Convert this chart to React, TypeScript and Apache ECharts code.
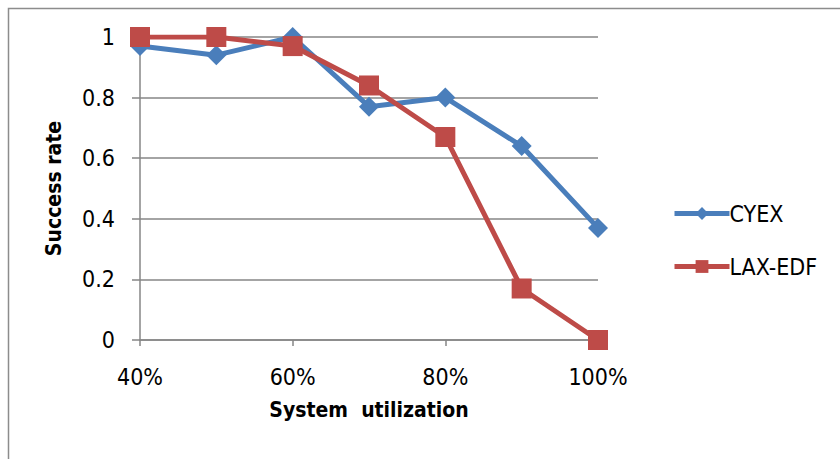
import React, { useEffect, useRef } from "react";
import * as echarts from "echarts";

const categories = ["40%", "50%", "60%", "70%", "80%", "90%", "100%"];
const cyex = [0.97, 0.94, 1.0, 0.77, 0.8, 0.64, 0.37];
const laxEdf = [1.0, 1.0, 0.97, 0.84, 0.67, 0.17, 0.0];

const FONT = "'Liberation Sans Narrow', 'DejaVu Sans Condensed', 'Liberation Sans', sans-serif";

export default function App() {
  const ref = useRef<HTMLDivElement>(null);
  useEffect(() => {
    if (!ref.current) return;
    const chart = echarts.init(ref.current, undefined, { renderer: "svg" });
    chart.setOption({
      animation: false,
      backgroundColor: "#ffffff",
      textStyle: { fontFamily: FONT },
      graphic: [
        {
          type: "rect",
          shape: { x: 8.5, y: 8.5, width: 900, height: 500 },
          style: { fill: "none", stroke: "#8c8c8c", lineWidth: 1.5 },
          silent: true,
        },
      ],
      grid: { left: 140, top: 37, right: 242, bottom: 119 },
      legend: {
        orient: "vertical",
        left: 667,
        top: 197,
        itemWidth: 55,
        itemHeight: 16,
        itemGap: 30,
        lineStyle: { width: 5 },
        textStyle: { fontSize: 23, color: "#000", fontFamily: FONT, padding: [0, 0, 0, -5] },
        data: ["CYEX", "LAX-EDF"],
      },
      xAxis: {
        type: "category",
        data: categories,
        boundaryGap: false,
        name: "System  utilization",
        nameLocation: "middle",
        nameGap: 59,
        nameTextStyle: { fontSize: 21, fontWeight: "bold", color: "#000", fontFamily: FONT },
        axisLine: { lineStyle: { color: "#868686", width: 1.5 } },
        axisTick: { show: true, interval: 1, length: 6, lineStyle: { color: "#868686", width: 1.5 } },
        axisLabel: { interval: 1, fontSize: 23, color: "#000", margin: 25, fontFamily: FONT },
        splitLine: { show: false },
      },
      yAxis: {
        type: "value",
        min: 0,
        max: 1,
        interval: 0.2,
        name: "Success rate",
        nameLocation: "middle",
        nameRotate: 90,
        nameGap: 76,
        nameTextStyle: { fontSize: 21, fontWeight: "bold", color: "#000", fontFamily: FONT },
        axisLine: { show: true, lineStyle: { color: "#868686", width: 1.5 } },
        axisTick: { show: true, length: 8, lineStyle: { color: "#868686", width: 1.5 } },
        axisLabel: { fontSize: 23, color: "#000", margin: 25, fontFamily: FONT },
        splitLine: { show: true, lineStyle: { color: "#868686", width: 1.5 } },
      },
      series: [
        {
          name: "CYEX",
          type: "line",
          data: cyex,
          symbol: "diamond",
          symbolSize: 20,
          lineStyle: { color: "#4a7ebb", width: 5 },
          itemStyle: { color: "#4a7ebb" },
        },
        {
          name: "LAX-EDF",
          type: "line",
          data: laxEdf,
          symbol: "rect",
          symbolSize: 20,
          lineStyle: { color: "#be4b48", width: 5 },
          itemStyle: { color: "#be4b48" },
        },
      ],
    });
    return () => chart.dispose();
  }, []);
  return (
    <div
      ref={ref}
      style={{ position: "fixed", left: 0, top: 0, width: 840, height: 459 }}
    />
  );
}
